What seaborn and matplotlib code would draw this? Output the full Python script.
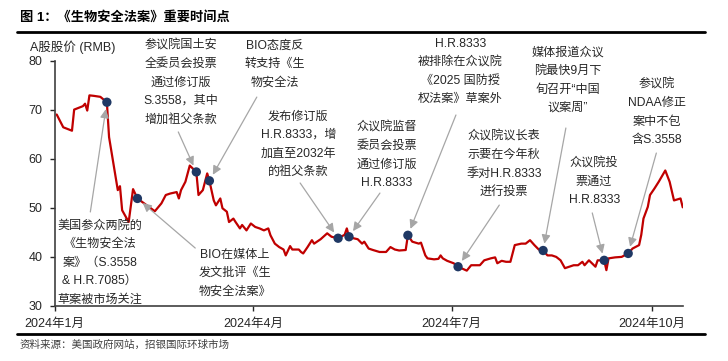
import pandas as pd
import numpy as np
import seaborn as sns
import matplotlib.pyplot as plt
from matplotlib.lines import Line2D

# A-share price (turning points)
dates = [
    '2024-01-02', '2024-01-05', '2024-01-09', '2024-01-10', '2024-01-14', '2024-01-15',
    '2024-01-16', '2024-01-17', '2024-01-19', '2024-01-22', '2024-01-25', '2024-01-26',
    '2024-01-30', '2024-01-31', '2024-02-01', '2024-02-04', '2024-02-06', '2024-02-08',
    '2024-02-16', '2024-02-19', '2024-02-21', '2024-02-23', '2024-02-26', '2024-02-27',
    '2024-02-28', '2024-03-01', '2024-03-03', '2024-03-06', '2024-03-07', '2024-03-09',
    '2024-03-11', '2024-03-12', '2024-03-14', '2024-03-15', '2024-03-17', '2024-03-18',
    '2024-03-20', '2024-03-21', '2024-03-23', '2024-03-24', '2024-03-26', '2024-03-27',
    '2024-03-29', '2024-03-31', '2024-04-02', '2024-04-04', '2024-04-06', '2024-04-08',
    '2024-04-09', '2024-04-11', '2024-04-13', '2024-04-15', '2024-04-16', '2024-04-18',
    '2024-04-19', '2024-04-22', '2024-04-23', '2024-04-24', '2024-04-26', '2024-04-28',
    '2024-04-29', '2024-05-02', '2024-05-04', '2024-05-05', '2024-05-07', '2024-05-10',
    '2024-05-13', '2024-05-14', '2024-05-15', '2024-05-17', '2024-05-19', '2024-05-21',
    '2024-05-22', '2024-05-24', '2024-05-26', '2024-05-29', '2024-06-01', '2024-06-03',
    '2024-06-05', '2024-06-07', '2024-06-10', '2024-06-11', '2024-06-13', '2024-06-16',
    '2024-06-17', '2024-06-19', '2024-06-20', '2024-06-23', '2024-06-25', '2024-06-26',
    '2024-06-27', '2024-06-29', '2024-07-02', '2024-07-04', '2024-07-08', '2024-07-10',
    '2024-07-12', '2024-07-14', '2024-07-16', '2024-07-19', '2024-07-21', '2024-07-22',
    '2024-07-24', '2024-07-26', '2024-07-28', '2024-07-30', '2024-08-02', '2024-08-04',
    '2024-08-06', '2024-08-08', '2024-08-10', '2024-08-12', '2024-08-14', '2024-08-16',
    '2024-08-18', '2024-08-20', '2024-08-22', '2024-08-24', '2024-08-26', '2024-08-28',
    '2024-08-30', '2024-08-31', '2024-09-02', '2024-09-05', '2024-09-06', '2024-09-09',
    '2024-09-10', '2024-09-11', '2024-09-14', '2024-09-17', '2024-09-20', '2024-09-22',
    '2024-09-25', '2024-09-26', '2024-09-27', '2024-09-29', '2024-09-30', '2024-10-02',
    '2024-10-04', '2024-10-07', '2024-10-09', '2024-10-11', '2024-10-14', '2024-10-15',
]
prices = [
    69.0, 66.4, 65.7, 70.0, 70.7, 71.2,
    69.8, 72.9, 72.8, 72.6, 71.5, 64.4,
    53.6, 54.4, 49.5, 47.1, 53.8, 51.9,
    49.3, 50.9, 52.6, 52.9, 53.2, 51.9,
    53.6, 55.3, 58.6, 57.3, 52.6, 53.6,
    57.0, 55.5, 51.5, 50.5, 51.9, 49.9,
    49.2, 47.1, 47.8, 47.1, 45.8, 46.5,
    45.4, 46.8, 46.1, 45.8, 45.4, 45.8,
    44.4, 42.7, 42.0, 41.5, 40.3, 42.2,
    41.5, 41.5, 41.0, 40.7, 42.0, 43.4,
    42.7, 43.6, 44.4, 44.8, 44.1, 43.8,
    44.5, 45.8, 44.1, 43.8, 43.6, 42.7,
    43.1, 41.7, 41.4, 41.0, 41.0, 42.0,
    41.5, 41.3, 41.4, 44.4, 43.1, 42.7,
    42.9, 40.3, 39.7, 39.5, 39.6, 40.3,
    39.7, 39.2, 38.7, 38.0, 37.2, 38.3,
    38.3, 38.3, 39.3, 39.7, 39.9, 38.7,
    39.2, 39.0, 39.0, 42.4, 42.7, 42.7,
    43.4, 42.4, 41.5, 41.3, 40.3, 40.3,
    40.0, 39.3, 37.7, 38.0, 38.3, 38.3,
    39.0, 38.3, 39.3, 38.0, 39.3, 39.3,
    37.3, 39.7, 39.9, 40.0, 40.7, 41.7,
    42.4, 44.5, 47.8, 50.2, 52.6, 53.9,
    55.3, 57.6, 55.3, 51.5, 51.9, 50.1,
]

event_dates = ['2024-01-25', '2024-02-08', '2024-03-06', '2024-03-12', '2024-05-10',
               '2024-05-15', '2024-06-11', '2024-07-04', '2024-08-12', '2024-09-09',
               '2024-09-20']
event_texts = [
    '美国参众两院的\n《生物安全法\n案》（S.3558\n& H.R.7085）\n草案被市场关注',
    'BIO在媒体上\n发文批评《生\n物安全法案》',
    '参议院国土安\n全委员会投票\n通过修订版\nS.3558，其中\n增加祖父条款',
    'BIO态度反\n转支持《生\n物安全法',
    '发布修订版\nH.R.8333，增\n加直至2032年\n的祖父条款',
    '众议院监督\n委员会投票\n通过修订版\nH.R.8333',
    'H.R.8333\n被排除在众议院\n《2025 国防授\n权法案》草案外',
    '众议院议长表\n示要在今年秋\n季对H.R.8333\n进行投票',
    '媒体报道众议\n院最快9月下\n旬召开“中国\n议案周”',
    '众议院投\n票通过\nH.R.8333',
    '参议院\nNDAA修正\n案中不包\n含S.3558',
]
# text block position (axes fraction, top centre) and arrow tail (axes fraction)
text_pos = [(0.072, 0.352), (0.287, 0.234), (0.201, 1.085), (0.351, 1.085), (0.388, 0.796),
            (0.529, 0.751), (0.646, 1.093), (0.716, 0.714), (0.817, 1.057), (0.859, 0.605),
            (0.959, 0.926)]
arrow_tail = [(0.057, 0.383), (0.224, 0.236), (0.197, 0.709), (0.322, 0.851), (0.391, 0.501),
              (0.518, 0.460), (0.639, 0.778), (0.708, 0.411), (0.814, 0.725), (0.856, 0.379),
              (0.958, 0.623)]

sns.set_style('ticks')
plt.rcParams['font.family'] = ['Liberation Sans', 'Noto Sans CJK SC']

df = pd.DataFrame({'date': pd.to_datetime(dates), 'price': prices})
ev = df[df['date'].isin(pd.to_datetime(event_dates))].reset_index(drop=True)

fig = plt.figure(figsize=(7.28, 3.61), dpi=100)
ax = fig.add_axes([0.0749, 0.1524, 0.8629, 0.68])

sns.lineplot(data=df, x='date', y='price', ax=ax, color='#c00000', lw=1.6)
sns.scatterplot(data=ev, x='date', y='price', ax=ax, color='#1f3864', s=45,
                edgecolor='none', zorder=5)

ax.set_xlim(pd.Timestamp('2024-01-01'), pd.Timestamp('2024-10-15'))
ax.set_ylim(30, 80)
ax.set_yticks([30, 40, 50, 60, 70, 80])
ticks = pd.to_datetime(['2024-01-01', '2024-04-01', '2024-07-01', '2024-10-01'])
ax.set_xticks(ticks)
ax.set_xticklabels(['2024年1月', '2024年4月', '2024年7月', '2024年10月'])
ax.set_xlabel('')
ax.set_ylabel('')
ax.tick_params(axis='both', labelsize=9, colors='#262626', length=3.5, width=1, pad=5)
for s in ['top', 'right']:
    ax.spines[s].set_visible(False)
for s in ['left', 'bottom']:
    ax.spines[s].set_color('#404040')
    ax.spines[s].set_linewidth(1.2)

for i in range(len(event_texts)):
    ax.annotate('', xy=(ev['date'][i], ev['price'][i]), xycoords='data',
                xytext=arrow_tail[i], textcoords='axes fraction',
                arrowprops=dict(arrowstyle='-|>', color='#a6a6a6', lw=0.9,
                                mutation_scale=13, shrinkA=0, shrinkB=5))
    ax.text(text_pos[i][0], text_pos[i][1], event_texts[i], transform=ax.transAxes,
            ha='center', va='top', multialignment='center', fontsize=8.7,
            linespacing=1.72, color='#262626', clip_on=False)

fig.text(30 / 728, 1 - 47.5 / 361, 'A股股价 (RMB)', fontsize=9, color='#262626',
         ha='left', va='center')
fig.text(20 / 728, 1 - 17 / 361, '图 1：《生物安全法案》重要时间点', fontsize=9.5,
         fontweight='bold', color='black', ha='left', va='center')
fig.text(20 / 728, 1 - 345 / 361, '资料来源：美国政府网站，招银国际环球市场', fontsize=7.6,
         color='#404040', ha='left', va='center')
fig.add_artist(Line2D([17 / 728, 705 / 728], [1 - 32.3 / 361] * 2, color='black', lw=2))
fig.add_artist(Line2D([17 / 728, 705 / 728], [1 - 333.5 / 361] * 2, color='black', lw=2))

fig.savefig('out.png', dpi=100)
